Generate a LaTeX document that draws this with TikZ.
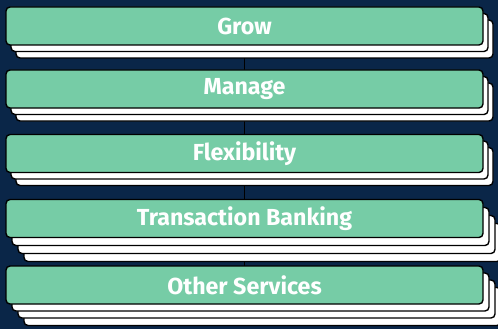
\documentclass[tikz,border=0pt]{standalone}
\usepackage{fontspec}
\setmainfont{Fira Sans}
\definecolor{navy}{RGB}{10,38,72}
\definecolor{cardgreen}{RGB}{118,204,166}
\begin{document}
\begin{tikzpicture}[x=1pt,y=-1pt,
  card/.style={draw=black, line width=1.4pt, rounded corners=4pt, fill=cardgreen,
    minimum width=477pt, minimum height=38pt, inner sep=0pt, outer sep=0pt,
    text=white, font=\fontsize{23.2}{24}\selectfont\bfseries},
  layer/.style={draw=black, line width=1.4pt, rounded corners=4pt, fill=white,
    minimum width=477pt, minimum height=38pt, inner sep=0pt, outer sep=0pt},
  link/.style={draw=black, line width=1.2pt}]
\fill[navy] (0,0) rectangle (498,329);
\useasboundingbox (0,0) rectangle (498,329);
% connectors (behind the stacks)
\coordinate (c1) at (244.5,26);
\coordinate (c2) at (244.5,89);
\coordinate (c3) at (244.5,153.5);
\coordinate (c4) at (244.5,218.5);
\coordinate (c5) at (244.5,285);
\draw[link] (c1) -- (c2);
\draw[link] (c2) -- (c3);
\draw[link] (c3) -- (c4);
\draw[link] (c4) -- (c5);
% Grow
\node[layer] (g2) at (254.5,39) {};
\node[layer] (g1) at (249.5,32.5) {};
\node[card] (grow) at (c1) {Grow};
% Manage
\node[layer] (m2) at (254.5,102) {};
\node[layer] (m1) at (249.5,95.5) {};
\node[card] (manage) at (c2) {Manage};
% Flexibility
\node[layer] (f2) at (254.5,166.5) {};
\node[layer] (f1) at (249.5,160) {};
\node[card] (flex) at (c3) {Flexibility};
% Transaction Banking
\node[layer] (t3) at (262.5,242.5) {};
\node[layer] (t2) at (256.5,234.5) {};
\node[layer] (t1) at (250.5,226.5) {};
\node[card] (trans) at (c4) {Transaction Banking};
% Other Services
\node[layer] (o3) at (262.5,306.5) {};
\node[layer] (o2) at (256.5,299) {};
\node[layer] (o1) at (250.5,292) {};
\node[card] (other) at (c5) {Other Services};
\end{tikzpicture}
\end{document}
